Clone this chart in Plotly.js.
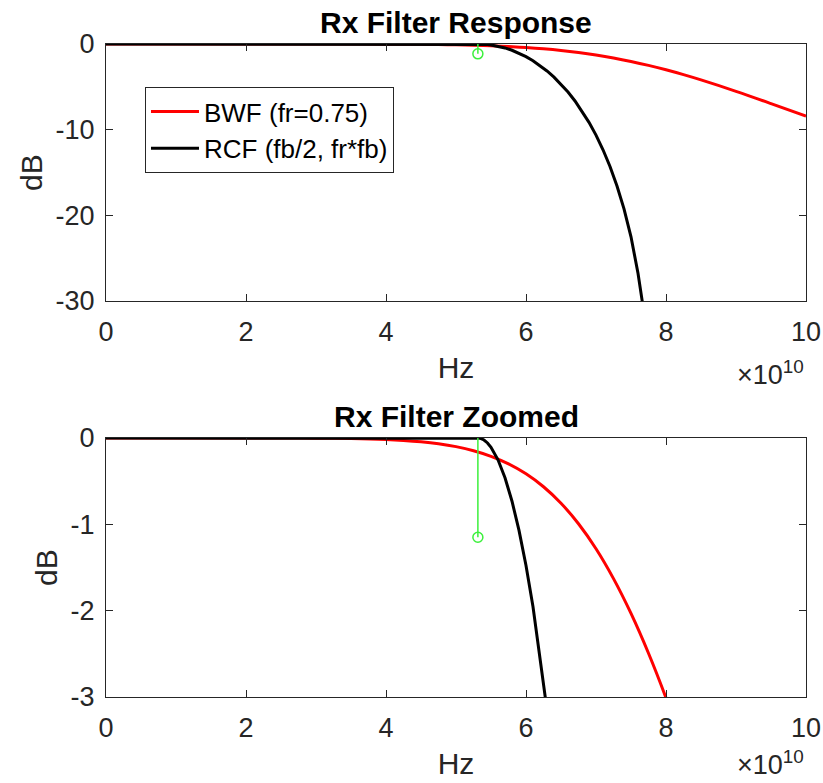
<!DOCTYPE html>
<html>
<head>
<meta charset="utf-8">
<script src="https://cdn.plot.ly/plotly-3.0.1.min.js"></script>
<style>html,body{margin:0;padding:0;background:#fff;}#chart{width:823px;height:783px;}</style>
</head>
<body>
<div id="chart"></div>
<script>
// Frequencies in Hz
var bwfFreq = [0, 1e10, 2e10, 2.5e10, 3e10, 3.5e10, 4e10, 4.25e10, 4.5e10, 4.75e10, 5e10, 5.25e10, 5.5e10, 5.75e10, 6e10, 6.25e10, 6.5e10, 6.75e10, 7e10, 7.25e10, 7.5e10, 7.75e10, 8e10, 8.25e10, 8.5e10, 9e10, 9.5e10, 10e10];
var bwfDb = [0, 0, -0.0001, -0.0004, -0.0017, -0.0058, -0.0169, -0.0275, -0.0433, -0.0665, -0.0999, -0.1469, -0.2115, -0.2988, -0.4144, -0.5644, -0.7554, -0.9931, -1.2827, -1.6286, -2.0323, -2.4935, -3.0103, -3.5777, -4.190, -5.521, -6.950, -8.426];

var rcfFreq = [0, 2e10, 4e10, 5e10, 5.3125e10, 5.35e10, 5.4e10, 5.45e10, 5.5e10, 5.6e10, 5.7e10, 5.8e10, 5.9e10, 6.0e10, 6.1e10, 6.2e10, 6.3e10, 6.4e10, 6.5e10, 6.6e10, 6.7e10, 6.8e10, 6.9e10, 7.0e10, 7.1e10, 7.2e10, 7.3e10, 7.4e10, 7.5e10, 7.6e10, 7.7e10];
var rcfDb = [0, 0, 0, 0, 0, -0.004, -0.023, -0.057, -0.107, -0.252, -0.460, -0.732, -1.070, -1.477, -1.954, -2.514, -3.150, -3.871, -4.690, -5.613, -6.652, -7.824, -9.143, -10.638, -12.342, -14.292, -16.57, -19.25, -22.50, -26.76, -32.16];

var stemFreq = [5.3125e10];
var stemDb = [-1.15];

var xTickVals = [0, 2e10, 4e10, 6e10, 8e10, 10e10];
var xTickText = ['0', '2', '4', '6', '8', '10'];
var yTopTicks = [-30, -20, -10, 0];
var yTopText = ['-30', '-20', '-10', '0'];
var yBotTicks = [-3, -2, -1, 0];
var yBotText = ['-3', '-2', '-1', '0'];

var names = ['BWF (fr=0.75)', 'RCF (fb/2, fr*fb)'];

var FONT = 'Liberation Sans, Arial, Helvetica, sans-serif';
var AX = '#262626';
var GREEN = '#3cf03c';

function stemLine(xa, ya) {
  return {x: [stemFreq[0], stemFreq[0]], y: [0, stemDb[0]], xaxis: xa, yaxis: ya, mode: 'lines',
    line: {color: GREEN, width: 1.5}, showlegend: false, hoverinfo: 'skip'};
}
function stemMark(xa, ya) {
  return {x: stemFreq, y: stemDb, xaxis: xa, yaxis: ya, mode: 'markers',
    marker: {symbol: 'circle-open', size: 10, color: GREEN, line: {width: 1.5, color: GREEN}},
    showlegend: false, cliponaxis: false};
}

var traces = [
  {x: bwfFreq, y: bwfDb, xaxis: 'x', yaxis: 'y', mode: 'lines', name: names[0], line: {color: '#ff0000', width: 3, shape: 'spline'}},
  {x: rcfFreq, y: rcfDb, xaxis: 'x', yaxis: 'y', mode: 'lines', name: names[1], line: {color: '#000000', width: 3}},
  stemLine('x', 'y'), stemMark('x', 'y'),
  {x: bwfFreq, y: bwfDb, xaxis: 'x2', yaxis: 'y2', mode: 'lines', name: names[0], showlegend: false, line: {color: '#ff0000', width: 3, shape: 'spline'}},
  {x: rcfFreq, y: rcfDb, xaxis: 'x2', yaxis: 'y2', mode: 'lines', name: names[1], showlegend: false, line: {color: '#000000', width: 3}},
  stemLine('x2', 'y2'), stemMark('x2', 'y2')
];

function xAxis(anchor) {
  return {domain: [0, 1], anchor: anchor, range: [0, 1e11], tickmode: 'array', tickvals: xTickVals, ticktext: xTickText,
    ticks: 'inside', ticklen: 7, tickwidth: 1, tickcolor: AX, showline: true, linecolor: AX, linewidth: 1, mirror: 'allticks',
    showgrid: false, zeroline: false, tickfont: {family: FONT, size: 27, color: AX}, ticklabelstandoff: 7,
    title: {text: 'Hz', font: {family: FONT, size: 30, color: AX}, standoff: 10}};
}
function yAxis(anchor, dom, rng, tv, tt) {
  return {domain: dom, anchor: anchor, range: rng, tickmode: 'array', tickvals: tv, ticktext: tt,
    ticks: 'inside', ticklen: 7, tickwidth: 1, tickcolor: AX, showline: true, linecolor: AX, linewidth: 1, mirror: 'allticks',
    showgrid: false, zeroline: false, tickfont: {family: FONT, size: 27, color: AX}, ticklabelstandoff: 5,
    title: {text: 'dB', font: {family: FONT, size: 30, color: AX}, standoff: 4}};
}

var layout = {
  width: 823, height: 783,
  margin: {l: 106, r: 17, t: 44, b: 86},
  paper_bgcolor: '#ffffff', plot_bgcolor: '#ffffff',
  font: {family: FONT, color: AX},
  showlegend: true,
  xaxis: xAxis('y'),
  yaxis: yAxis('x', [0.6064, 1], [-30, 0], yTopTicks, yTopText),
  xaxis2: xAxis('y2'),
  yaxis2: yAxis('x2', [0, 0.3966], [-3, 0], yBotTicks, yBotText),
  legend: {x: 0.0557, y: 0.934, xanchor: 'left', yanchor: 'top', bgcolor: '#ffffff', bordercolor: AX, borderwidth: 1,
    font: {family: FONT, size: 26, color: '#000000'}, tracegroupgap: 0, itemwidth: 48},
  annotations: [
    {text: '<b>Rx Filter Response</b>', xref: 'paper', yref: 'paper', x: 0.5, y: 1, xanchor: 'center', yanchor: 'bottom', yshift: 3, showarrow: false,
      font: {family: FONT, size: 30, color: '#000000'}},
    {text: '<b>Rx Filter Zoomed</b>', xref: 'paper', yref: 'paper', x: 0.5, y: 0.3966, xanchor: 'center', yanchor: 'bottom', yshift: 3, showarrow: false,
      font: {family: FONT, size: 30, color: '#000000'}},
    {text: '\u00d710<sup>10</sup>', xref: 'paper', yref: 'paper', x: 1, y: 0.6064, xanchor: 'right', yanchor: 'middle', yshift: -72, showarrow: false,
      font: {family: FONT, size: 27, color: AX}},
    {text: '\u00d710<sup>10</sup>', xref: 'paper', yref: 'paper', x: 1, y: 0, xanchor: 'right', yanchor: 'middle', yshift: -66, showarrow: false,
      font: {family: FONT, size: 27, color: AX}}
  ]
};

Plotly.newPlot('chart', traces, layout, {displayModeBar: false, staticPlot: true});
</script>
</body>
</html>
